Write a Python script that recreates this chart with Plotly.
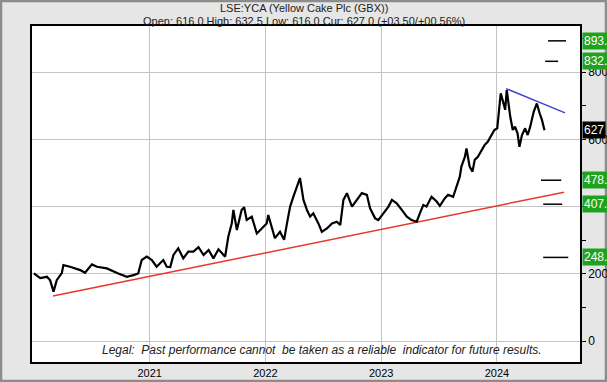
import plotly.graph_objects as go

# ---- data ----
dates = [
    "2020-01-02", "2020-01-22", "2020-02-12", "2020-02-22", "2020-03-04", "2020-03-14",
    "2020-03-30", "2020-04-04", "2020-04-25", "2020-05-27", "2020-06-11", "2020-07-03",
    "2020-07-19", "2020-08-19", "2020-09-24", "2020-10-21", "2020-11-11", "2020-11-26",
    "2020-12-07", "2020-12-23", "2021-01-08", "2021-01-23", "2021-02-13", "2021-02-24",
    "2021-03-07", "2021-03-17", "2021-04-01", "2021-04-17", "2021-05-03", "2021-05-19",
    "2021-06-04", "2021-06-20", "2021-07-06", "2021-07-21", "2021-08-06", "2021-08-27",
    "2021-09-06", "2021-09-17", "2021-09-22", "2021-10-03", "2021-10-18", "2021-10-26",
    "2021-11-03", "2021-11-19", "2021-12-05", "2021-12-15", "2022-01-05", "2022-01-10",
    "2022-01-21", "2022-01-31", "2022-02-16", "2022-03-01", "2022-03-10", "2022-03-20",
    "2022-03-30", "2022-04-10", "2022-04-20", "2022-05-01", "2022-05-12", "2022-05-22",
    "2022-06-01", "2022-06-17", "2022-06-28", "2022-07-14", "2022-07-30", "2022-08-14",
    "2022-08-25", "2022-09-04", "2022-09-15", "2022-10-01", "2022-10-16", "2022-11-01",
    "2022-11-17", "2022-11-27", "2022-12-13", "2022-12-23", "2023-01-08", "2023-01-24",
    "2023-02-04", "2023-02-19", "2023-03-07", "2023-03-23", "2023-04-07", "2023-04-23",
    "2023-05-03", "2023-05-14", "2023-05-24", "2023-06-09", "2023-06-25", "2023-07-05",
    "2023-07-21", "2023-07-31", "2023-08-16", "2023-08-27", "2023-09-06", "2023-09-11",
    "2023-09-22", "2023-09-27", "2023-10-07", "2023-10-16", "2023-10-23", "2023-11-02",
    "2023-11-13", "2023-11-23", "2023-12-03", "2023-12-14", "2023-12-24", "2024-01-02",
    "2024-01-08", "2024-01-13", "2024-01-19", "2024-01-27", "2024-02-01", "2024-02-06",
    "2024-02-12", "2024-02-20", "2024-02-27", "2024-03-06", "2024-03-12", "2024-03-20",
    "2024-03-30", "2024-04-07", "2024-04-15", "2024-04-26", "2024-05-06", "2024-05-15",
    "2024-05-22", "2024-05-30",
]
prices = [
    201, 187, 191, 181, 147, 181,
    202, 226, 221, 211, 203, 228,
    221, 216, 201, 191, 196, 201,
    241, 251, 241, 221, 241, 221,
    220, 256, 276, 246, 266, 266,
    279, 256, 271, 246, 273, 251,
    310, 350, 390, 330, 390, 398,
    360, 370, 320, 330, 350, 375,
    340, 306, 325, 301, 350, 400,
    429, 459, 485, 420, 390, 370,
    380, 350, 325, 335, 350, 355,
    345, 420, 440, 400, 420, 440,
    435, 395, 365, 360, 380, 400,
    420, 410, 390, 370, 360, 355,
    380, 405, 400, 429, 415, 402,
    425, 435, 429, 459, 489, 519,
    548, 573, 519, 504, 539, 548,
    568, 583, 593, 613, 628, 633,
    688, 737, 717, 688, 747, 707,
    668, 628, 638, 618, 578, 613,
    633, 613, 638, 682, 707, 677,
    658, 627,
]

support_dates = ["2020-03-02", "2024-07-31"]
support_values = [134, 443]
resist_dates = ["2024-01-30", "2024-08-03"]
resist_values = [751, 679]

target_values = [893.3, 832.4, 478.5, 407.1, 248.8]
target_labels = ["893.3", "832.4", "478.5", "407.1", "248.8"]
target_starts = ["2024-06-10", "2024-06-01", "2024-05-19", "2024-05-26", "2024-05-26"]
target_ends = ["2024-08-06", "2024-07-12", "2024-07-22", "2024-07-25", "2024-08-13"]

current_price = 627
year_ticks = ["2021-01-01", "2022-01-01", "2023-01-01", "2024-01-01"]
year_labels = ["2021", "2022", "2023", "2024"]
y_ticks = [0, 200, 400, 600, 800]
y_minor = [100, 300, 500, 700, 900]

title_text = "LSE:YCA (Yellow Cake Plc (GBX))"
subtitle_text = "Open: 616.0 High: 632.5 Low: 616.0 Cur: 627.0 (+03.50/+00.56%)"
legal_text = "Legal:  Past performance cannot  be taken as a reliable  indicator for future results."

FONT = "Liberation Sans, Arial, sans-serif"
W, H = 607, 382
L, R, T, B = 32, 27, 26, 20
PW, PH = W - L - R, H - T - B


def px_x(x):
    return (x - L) / PW


def px_y(y):
    return (H - B - y) / PH


fig = go.Figure()

fig.add_trace(go.Scatter(x=support_dates, y=support_values, mode="lines",
                         line=dict(color="#e8372b", width=1.5), hoverinfo="skip"))
fig.add_trace(go.Scatter(x=resist_dates, y=resist_values, mode="lines",
                         line=dict(color="#4646d2", width=1.5), hoverinfo="skip"))
fig.add_trace(go.Scatter(x=dates, y=prices, mode="lines",
                         line=dict(color="black", width=2.2)))

for v, s, e in zip(target_values, target_starts, target_ends):
    fig.add_shape(type="line", xref="x", yref="y", x0=s, x1=e, y0=v, y1=v,
                  line=dict(color="black", width=1.5))

annotations = []
for v, t in zip(target_values, target_labels):
    annotations.append(dict(xref="paper", yref="y", x=px_x(582), y=v, text=t, showarrow=False,
                            xanchor="left", yanchor="middle", bgcolor="#1fa31f",
                            font=dict(family=FONT, size=12, color="white"), borderpad=1))
annotations.append(dict(xref="paper", yref="y", x=px_x(582), y=current_price, text=str(current_price),
                        showarrow=False, xanchor="left", yanchor="middle", bgcolor="black",
                        font=dict(family=FONT, size=12, color="white"), borderpad=1))
annotations.append(dict(xref="paper", yref="paper", x=px_x(303.5), y=px_y(8),
                        text=title_text, showarrow=False,
                        xanchor="center", yanchor="middle",
                        font=dict(family=FONT, size=11, color="#222")))
annotations.append(dict(xref="paper", yref="paper", x=px_x(303.5), y=px_y(21),
                        text=subtitle_text, showarrow=False,
                        xanchor="center", yanchor="middle",
                        font=dict(family=FONT, size=11, color="#222")))
annotations.append(dict(xref="paper", yref="paper", x=px_x(322), y=px_y(349.5),
                        text=legal_text, showarrow=False,
                        xanchor="center", yanchor="middle",
                        font=dict(family=FONT, size=12, color="#222", style="italic")))

# outer frame border
fig.add_shape(type="rect", xref="paper", yref="paper", layer="below",
              x0=px_x(1), x1=px_x(W - 1), y0=px_y(H - 1), y1=px_y(1),
              line=dict(color="#8c8c8c", width=2.5), fillcolor="rgba(0,0,0,0)")

fig.update_layout(
    template="none",
    width=W, height=H,
    margin=dict(l=L, r=R, t=T, b=B, autoexpand=False),
    paper_bgcolor="#e6e6e6",
    plot_bgcolor="white",
    showlegend=False,
    annotations=annotations,
    font=dict(family=FONT, size=11, color="black"),
)
fig.update_xaxes(type="date", range=["2019-12-27", "2024-09-19"], automargin=False,
                 tickvals=year_ticks, ticktext=year_labels,
                 showgrid=True, gridcolor="#c4c4c4", gridwidth=1,
                 showline=True, linecolor="black", linewidth=1.5, mirror=True,
                 ticks="", tickfont=dict(size=11), zeroline=False)
fig.update_yaxes(range=[-62.5, 937.5], side="right", automargin=False,
                 tickvals=y_ticks, ticktext=[str(v) for v in y_ticks],
                 showgrid=True, gridcolor="#c4c4c4", gridwidth=1,
                 showline=True, linecolor="black", linewidth=1.5, mirror=True,
                 ticks="outside", ticklen=4, tickcolor="black", tickfont=dict(size=12),
                 minor=dict(tickvals=y_minor, ticks="outside", ticklen=4, tickcolor="black",
                            showgrid=False),
                 zeroline=False)

fig.write_html("out.html", config={"displayModeBar": False},
               post_script="document.body.style.margin='0';document.body.style.overflow='hidden';")
